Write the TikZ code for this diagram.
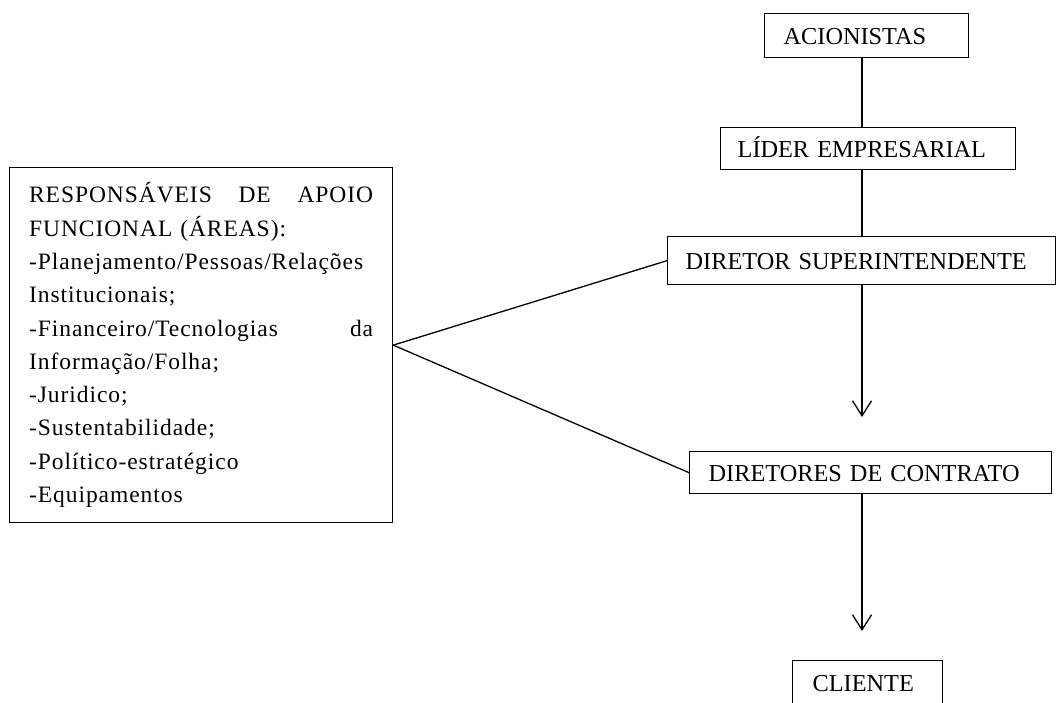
\documentclass[tikz,border=0pt]{standalone}
\usepackage{fontspec}
\setmainfont{Liberation Serif}
\newfontfamily\lfont[LetterSpace=4]{Liberation Serif}
\usetikzlibrary{arrows.meta}
\begin{document}
\begin{tikzpicture}[x=1pt,y=-1pt,
  box/.style={draw, line width=1.3pt, anchor=north west, align=left, inner ysep=0pt,
    text height=18pt, text depth=0pt, font=\fontsize{24.3}{28}\selectfont},
  link/.style={line width=1.3pt},
  arr/.style={line width=1.3pt, -{Straight Barb[length=15pt,width=19pt,line width=1.3pt]}}]
\useasboundingbox (0,0) rectangle (1056,702);
\node[box, minimum width=204pt, text width=166pt, inner xsep=19pt, minimum height=44pt] (ac) at (764,13) {ACIONISTAS};
\node[box, minimum width=295pt, text width=261pt, inner xsep=17pt, minimum height=42pt] (lider) at (720,127) {LÍDER EMPRESARIAL};
\node[box, minimum width=388pt, text width=352pt, inner xsep=18pt, minimum height=48pt] (sup) at (667,236) {DIRETOR SUPERINTENDENTE};
\node[box, minimum width=362pt, text width=324pt, inner xsep=19pt, minimum height=42pt] (dc) at (689,451) {DIRETORES DE CONTRATO};
\node[box, minimum width=150pt, text width=110pt, inner xsep=20pt, minimum height=44pt] (cli) at (792,660) {CLIENTE};
\node[draw, line width=1.3pt, anchor=north west, minimum width=383pt, minimum height=355pt,
  text width=344pt, inner xsep=19.5pt, align=left,
  font=\lfont\fontsize{23.5}{33.3}\selectfont] (apoio) at (9,167)
  {RESPONSÁVEIS\hfill DE\hfill APOIO\\
   FUNCIONAL (ÁREAS):\\
   -Planejamento/Pessoas/Relações\\
   Institucionais;\\
   -Financeiro/Tecnologias\hfill da\\
   Informação/Folha;\\
   -Juridico;\\
   -Sustentabilidade;\\
   -Político-estratégico\\
   -Equipamentos};
\coordinate (spine) at (862,0);
\coordinate (tip1) at (862,417);
\coordinate (tip2) at (862,631);
\draw[link] (ac.south -| spine) -- (lider.north -| spine);
\draw[link] (lider.south -| spine) -- (sup.north -| spine);
\draw[arr] (sup.south -| spine) -- (tip1);
\draw[arr] (dc.south -| spine) -- (tip2);
\draw[link] (apoio.east) -- (sup.west);
\draw[link] (apoio.east) -- (dc.west);
\end{tikzpicture}
\end{document}
